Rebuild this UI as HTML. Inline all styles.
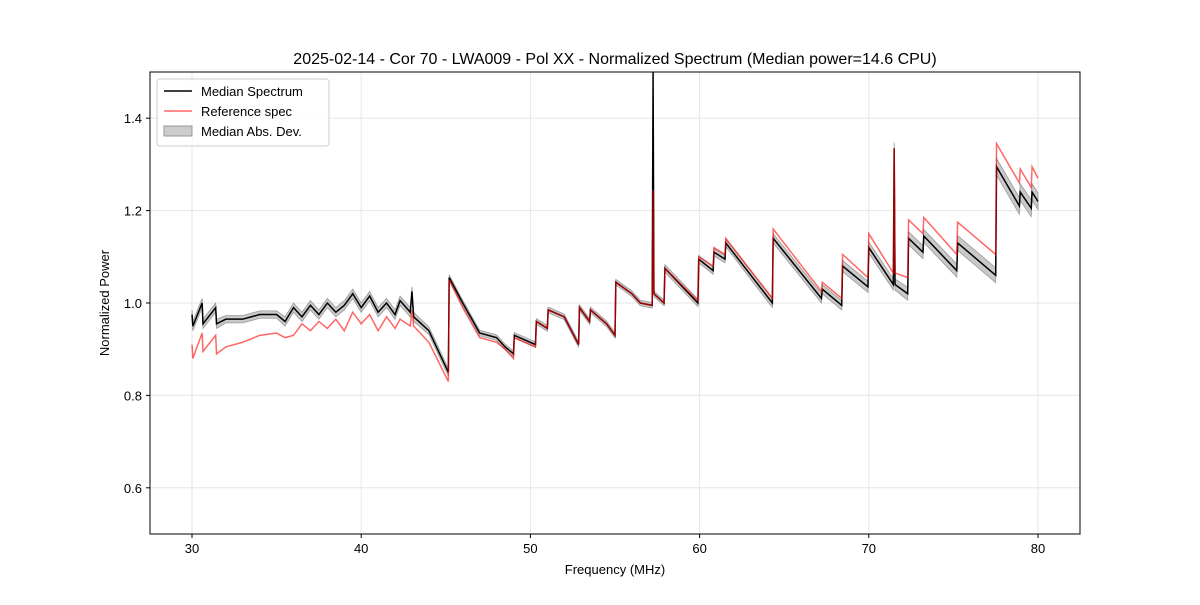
<!DOCTYPE html>
<html><head><meta charset="utf-8"><style>
body{margin:0;background:#fff}
svg{font-family:"Liberation Sans","DejaVu Sans",sans-serif}
</style></head><body>
<svg id="c" width="1200" height="600" viewBox="0 0 1200 600">
<rect width="1200" height="600" fill="#fff"/>
<text x="615" y="64" font-size="16" text-anchor="middle">2025-02-14 - Cor 70 - LWA009 - Pol XX - Normalized Spectrum (Median power=14.6 CPU)</text>
<g id="grid"></g>
<g id="plot"></g>
<rect x="150" y="72" width="930" height="462" fill="none" stroke="#000" stroke-width="1"/>
<g id="ticks"></g>
<text x="615" y="574" font-size="13" text-anchor="middle">Frequency (MHz)</text>
<text transform="translate(109,303) rotate(-90)" font-size="13" text-anchor="middle">Normalized Power</text>
<g>
<rect x="157" y="79" width="172" height="67" rx="3" fill="#fff" fill-opacity="0.8" stroke="#ccc"/>
<line x1="164" y1="91" x2="192" y2="91" stroke="#000" stroke-width="1.5"/>
<text x="201" y="96" font-size="13">Median Spectrum</text>
<line x1="164" y1="111" x2="192" y2="111" stroke="#ff6666" stroke-width="1.5"/>
<text x="201" y="116" font-size="13">Reference spec</text>
<rect x="164" y="126" width="28" height="10" fill="#ccc" stroke="#999"/>
<text x="201" y="136" font-size="13">Median Abs. Dev.</text>
</g>
</svg>
<script>
const freqs=[30.0,30.05,30.6,30.65,31.4,31.45,32.0,33.0,34.0,35.0,35.5,36.0,36.5,37.0,37.5,38.0,38.5,39.0,39.5,40.0,40.5,41.0,41.5,42.0,42.3,42.9,43.0,43.1,44.0,45.15,45.2,46.0,47.0,48.0,48.5,49.0,49.05,50.3,50.35,51.0,51.05,52.0,52.85,52.9,53.5,53.55,54.5,55.0,55.05,56.0,56.5,57.2,57.25,57.3,57.9,57.95,59.9,59.95,60.8,60.85,61.5,61.55,64.3,64.35,67.2,67.25,68.4,68.45,69.95,70.0,71.45,71.5,71.55,72.3,72.35,73.2,73.25,75.2,75.25,77.5,77.55,78.9,78.95,79.6,79.65,80.0];
const median=[0.975,0.95,1.0,0.955,0.99,0.955,0.965,0.965,0.975,0.975,0.96,0.99,0.97,0.995,0.975,1.0,0.98,0.995,1.02,0.99,1.015,0.98,1.0,0.975,1.005,0.98,1.025,0.97,0.94,0.85,1.055,1.0,0.935,0.925,0.905,0.89,0.93,0.91,0.96,0.945,0.985,0.97,0.91,0.99,0.96,0.985,0.955,0.93,1.045,1.02,1.0,0.995,1.5,1.02,1.0,1.075,1.0,1.095,1.07,1.11,1.095,1.13,1.0,1.14,1.01,1.03,0.995,1.08,1.035,1.12,1.04,1.335,1.04,1.02,1.14,1.11,1.145,1.07,1.13,1.06,1.295,1.21,1.24,1.205,1.24,1.22];
const reference=[0.91,0.88,0.935,0.895,0.93,0.89,0.905,0.915,0.93,0.935,0.925,0.93,0.955,0.94,0.96,0.945,0.965,0.94,0.98,0.955,0.975,0.94,0.97,0.945,0.965,0.95,0.985,0.95,0.915,0.83,1.05,0.99,0.925,0.915,0.9,0.88,0.925,0.905,0.96,0.945,0.985,0.97,0.91,0.99,0.96,0.985,0.955,0.93,1.045,1.02,1.0,0.995,1.245,1.02,1.0,1.075,1.005,1.1,1.08,1.12,1.105,1.14,1.01,1.16,1.025,1.045,1.01,1.105,1.055,1.15,1.065,1.335,1.065,1.055,1.18,1.15,1.185,1.105,1.175,1.105,1.345,1.26,1.29,1.25,1.295,1.27];
const madDev=[0.01,0.01,0.01,0.01,0.01,0.01,0.008,0.008,0.008,0.008,0.01,0.01,0.01,0.01,0.01,0.01,0.01,0.01,0.01,0.01,0.01,0.01,0.01,0.01,0.01,0.01,0.01,0.01,0.008,0.008,0.006,0.006,0.006,0.006,0.006,0.006,0.006,0.006,0.006,0.006,0.006,0.006,0.006,0.006,0.006,0.006,0.006,0.006,0.006,0.006,0.006,0.006,0.006,0.006,0.006,0.008,0.008,0.008,0.008,0.008,0.008,0.008,0.01,0.01,0.01,0.01,0.01,0.012,0.012,0.012,0.012,0.012,0.012,0.014,0.014,0.014,0.014,0.014,0.016,0.016,0.018,0.018,0.018,0.018,0.018,0.018];
const xTicks=[30,40,50,60,70,80];
const yTicks=[0.6,0.8,1.0,1.2,1.4];
const NS='http://www.w3.org/2000/svg';
const xS=f=>192+(f-30)*(1038-192)/50;
const yS=v=>534-(v-0.5)*462;
function mk(t,a,p){const e=document.createElementNS(NS,t);for(const k in a)e.setAttribute(k,a[k]);p.appendChild(e);return e;}
const grid=document.getElementById('grid'),ticks=document.getElementById('ticks'),plot=document.getElementById('plot');
xTicks.forEach(t=>{const x=xS(t);
 const g=mk('line',{x1:x,x2:x,y1:72,y2:534,stroke:'#e6e6e6'},grid);
 
 
 mk('line',{x1:x,x2:x,y1:534,y2:538,stroke:'#000'},ticks);
 const l=mk('text',{x:x,y:553,'font-size':13,'text-anchor':'middle'},ticks);l.textContent=t;
 
 
});
yTicks.forEach(t=>{const y=yS(t);
 const g=mk('line',{x1:150,x2:1080,y1:y,y2:y,stroke:'#e6e6e6'},grid);
 
 
 mk('line',{x1:146,x2:150,y1:y,y2:y,stroke:'#000'},ticks);
 const l=mk('text',{x:142,y:y+5,'font-size':13,'text-anchor':'end'},ticks);l.textContent=t.toFixed(1);
 
 
});
const clip=mk('clipPath',{id:'cp'},plot);mk('rect',{x:150,y:72,width:930,height:462},clip);
const g=mk('g',{'clip-path':'url(#cp)'},plot);
let up=freqs.map((f,i)=>xS(f)+','+yS(median[i]+madDev[i]));
let dn=freqs.map((f,i)=>xS(f)+','+yS(median[i]-madDev[i])).reverse();
const band=mk('polygon',{points:up.concat(dn).join(' '),fill:'#bbb','fill-opacity':0.8,stroke:'#999','stroke-width':0.8},g);


const med=mk('polyline',{points:freqs.map((f,i)=>xS(f)+','+yS(median[i])).join(' '),fill:'none',stroke:'#000','stroke-width':1.5},g);


const ref=mk('polyline',{points:freqs.map((f,i)=>xS(f)+','+yS(reference[i])).join(' '),fill:'none',stroke:'#ff0000','stroke-opacity':0.6,'stroke-width':1.5},g);


</script>
</body></html>
